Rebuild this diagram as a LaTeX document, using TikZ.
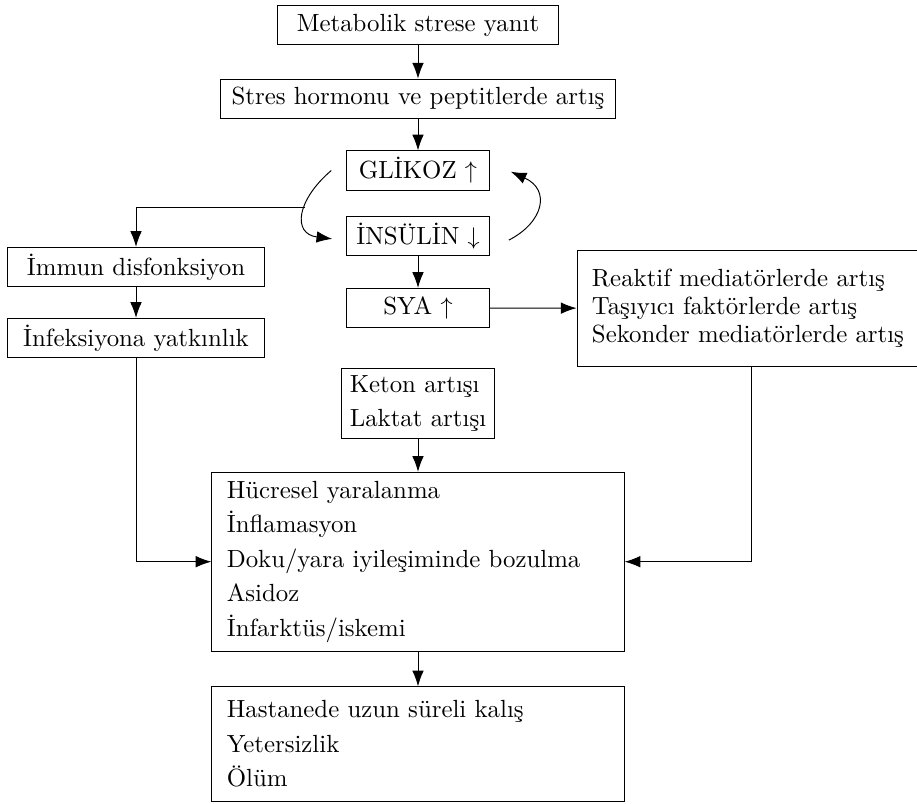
\documentclass[tikz,border=0pt]{standalone}
\usepackage{amsmath,amssymb}
\usepackage{tikz}
\usetikzlibrary{arrows.meta}
\usetikzlibrary{positioning}

\begin{document}
\begin{tikzpicture}[
      x=0.415pt, y=-0.415pt,
      font=\fontsize{10.3}{12}\selectfont,
      kutu/.style={draw, inner sep=0pt, minimum height=16.3pt},
      liste/.style={draw, align=left, inner xsep=6.2pt, inner ysep=0pt},
      ok/.style={-{Latex[length=6.5pt,width=4.8pt]}},
    ]
        \useasboundingbox (0,0) rectangle (917,804);
        \node[kutu, minimum width=116.6pt] (metab) at (418,25) {Metabolik strese yanıt};
        \node[kutu, minimum width=163.6pt] (stres) at (418,98.7) {Stres hormonu ve peptitlerde artış};
        \node[kutu, minimum width=59.2pt] (glikoz) at (418,170.5) {GLİKOZ $\uparrow$};
        \node[kutu, minimum width=59.2pt] (insulin) at (418,236) {İNSÜLİN $\downarrow$};
        \node[kutu, minimum width=59.2pt] (sya) at (418,308) {SYA $\uparrow$};
        \node[kutu, minimum width=106.9pt] (immun) at (136,267) {İmmun disfonksiyon};
        \node[kutu, minimum width=106.9pt] (infek) at (136,338) {İnfeksiyona yatkınlık};
        \node[liste, text width=132pt, minimum height=48.4pt,
            font=\fontsize{10.3}{11.7}\selectfont] (medi) at (751,308.3)
            {Reaktif mediatörlerde artış\\ Taşıyıcı faktörlerde artış\\ Sekonder mediatörlerde artış};
        \node[liste, inner xsep=3.5pt, minimum width=59.5pt, minimum height=29pt,
            font=\fontsize{10.3}{14.1}\selectfont] (keton) at (418,403.3)
            {Keton artışı\\ Laktat artışı};
        \node[liste, text width=158.7pt, minimum height=74.2pt,
            font=\fontsize{10.3}{14.36}\selectfont] (hucre) at (418,561.7)
            {Hücresel yaralanma\\ İnflamasyon\\ Doku/yara iyileşiminde bozulma\\ Asidoz\\ İnfarktüs/iskemi};
        \node[liste, text width=158.7pt, minimum height=47.4pt,
            font=\fontsize{10.3}{14.36}\selectfont] (sonuc) at (418,743.9)
            {Hastanede uzun süreli kalış\\ Yetersizlik\\ Ölüm};

        \draw[ok] (metab) -- (stres);
        \draw[ok] (stres) -- (glikoz);
        \draw[ok] ([xshift=-6.2pt]glikoz.west) .. controls +(-35,30) and +(-40,-5) ..
            ([xshift=-5.8pt, yshift=-1.2pt]insulin.west) coordinate[pos=0.42] (dongu);
        \draw[ok] ([xshift=7.9pt, yshift=-1.7pt]insulin.east) .. controls +(35,-18) and +(40,18) ..
            ([xshift=8.7pt, yshift=-0.5pt]glikoz.east);
        \draw[ok] (insulin) -- (sya);
        \draw[ok] (dongu) -| (immun);
        \draw[ok] (immun) -- (infek);
        \draw[ok] (sya) -- (medi);
        \draw[ok] (keton) -- (hucre);
        \draw[ok] (infek) |- (hucre);
        \draw[ok] (medi) |- (hucre);
        \draw[ok] (hucre) -- (sonuc);
    \end{tikzpicture}
\end{document}
